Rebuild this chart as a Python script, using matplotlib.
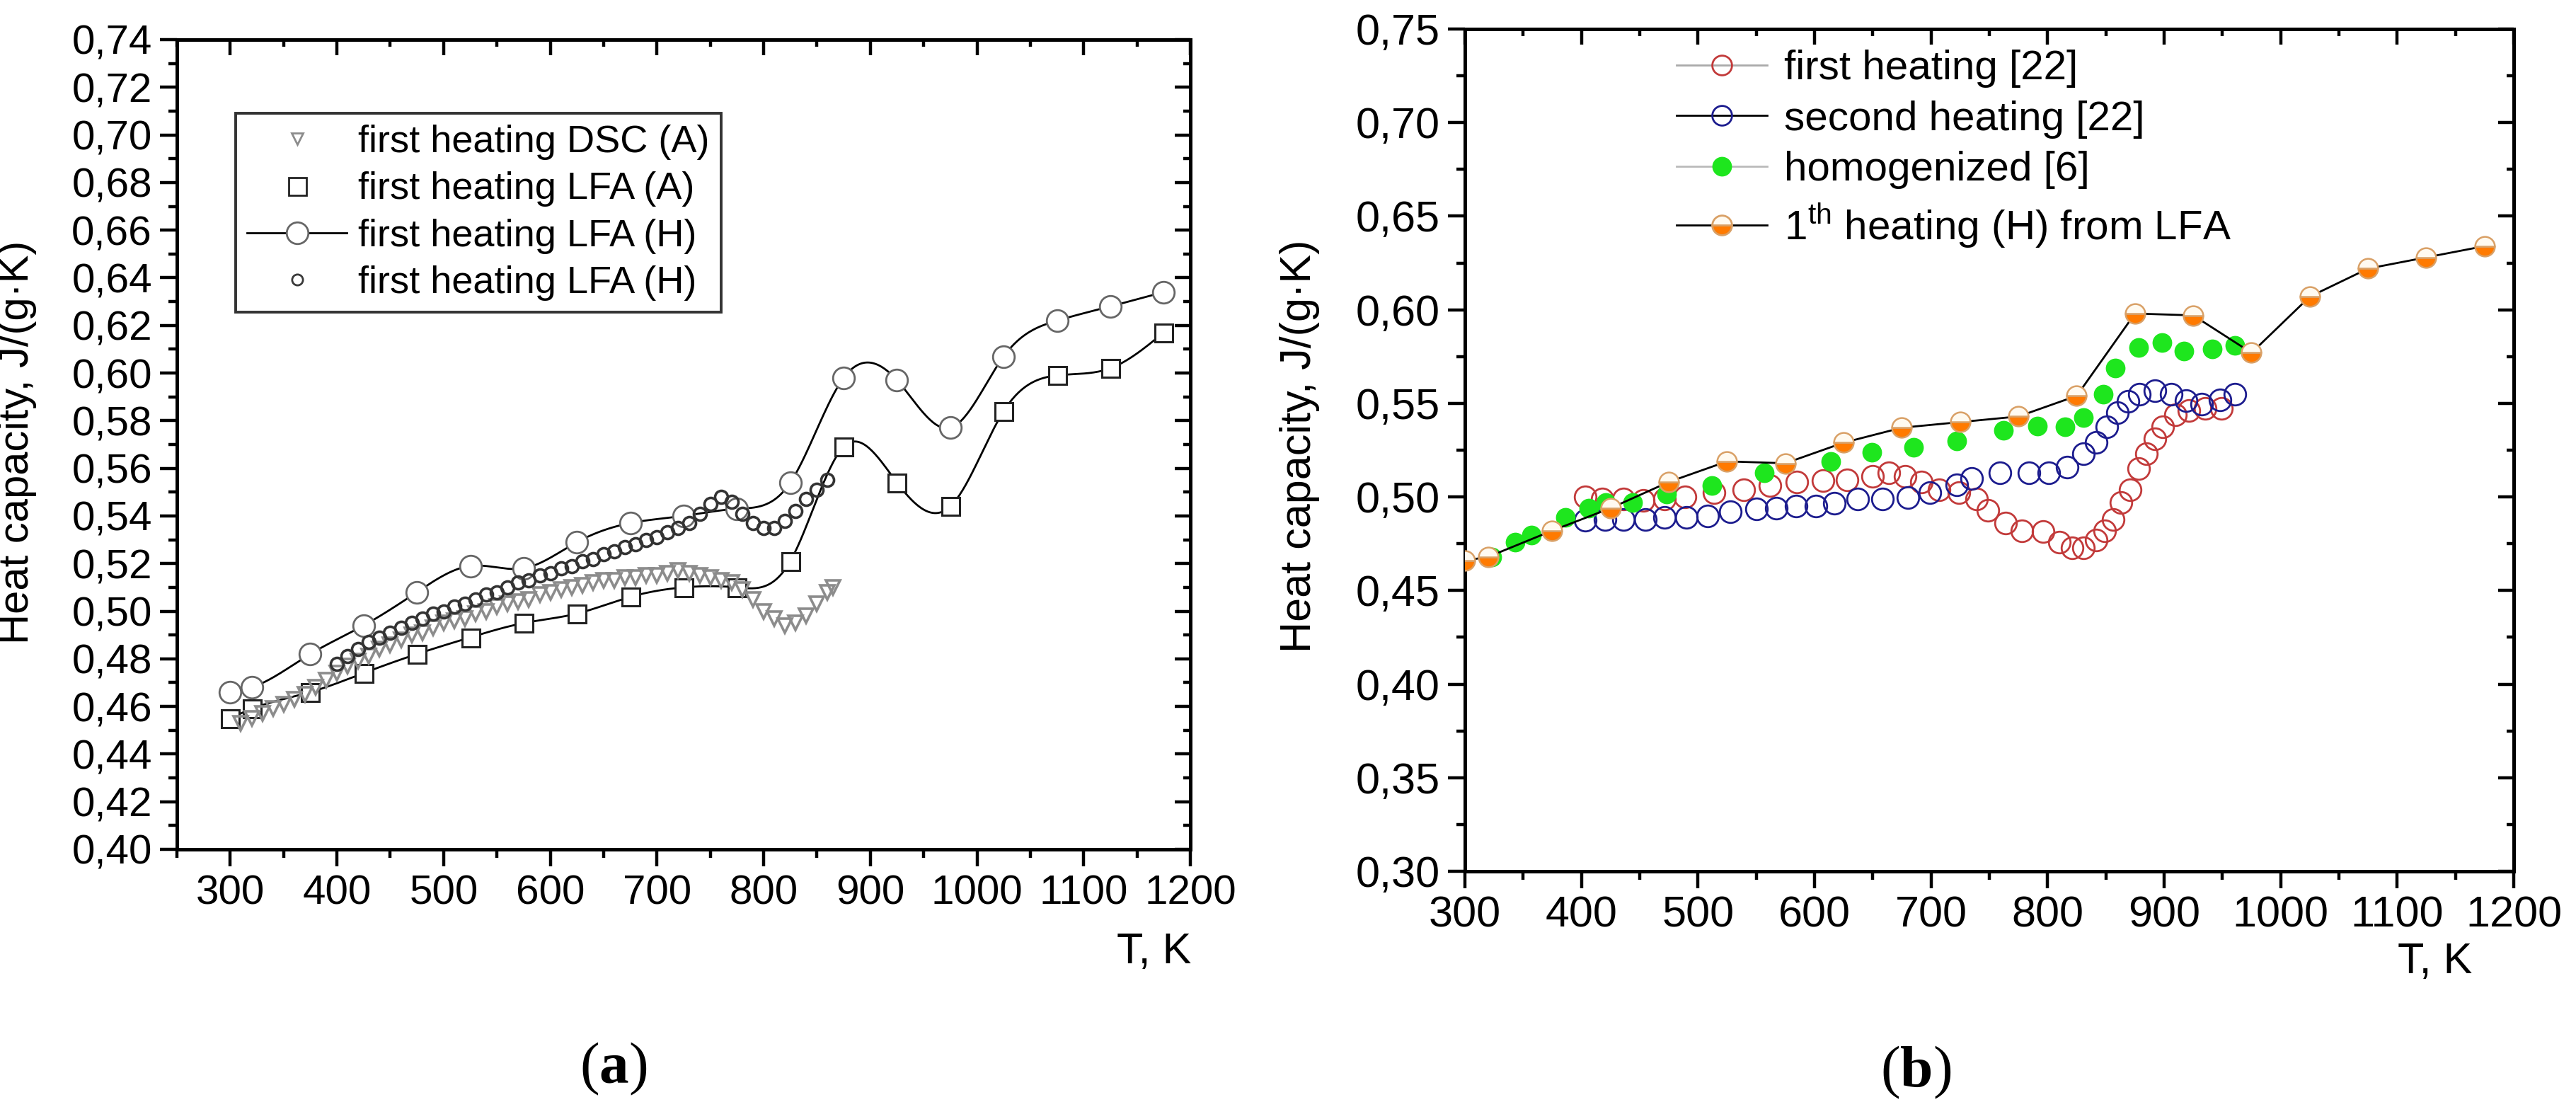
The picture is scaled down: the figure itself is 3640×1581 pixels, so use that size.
import numpy as np
import matplotlib
matplotlib.use("Agg")
import matplotlib.pyplot as plt
from matplotlib.ticker import MultipleLocator, FuncFormatter
from matplotlib.lines import Line2D

plt.rcParams['font.family'] = ['Liberation Sans', 'DejaVu Sans']
plt.rcParams['mathtext.fontset'] = 'custom'
plt.rcParams['mathtext.rm'] = 'Liberation Sans'
plt.rcParams['mathtext.bf'] = 'Liberation Serif:bold'

# ---------------- data, panel (a) ----------------
# DSC (A), dense curve (triangles)
dsc_a_T = [310, 320, 330, 340, 350, 360, 370, 380, 390, 400, 410, 420, 430, 440,
           450, 460, 470, 480, 490, 500, 510, 520, 530, 540, 550, 560, 570, 580,
           590, 600, 610, 620, 630, 640, 650, 660, 670, 680, 690, 700, 710, 720,
           730, 740, 750, 760, 770, 780, 790, 800, 810, 820, 830, 840, 850, 860, 865]
dsc_a_cp = [0.453, 0.455, 0.457, 0.459, 0.461, 0.463, 0.465, 0.468, 0.471, 0.474,
            0.477, 0.479, 0.481, 0.484, 0.486, 0.488, 0.490, 0.491, 0.493, 0.495,
            0.496, 0.497, 0.499, 0.500, 0.502, 0.503, 0.504, 0.505, 0.507, 0.508,
            0.509, 0.510, 0.511, 0.512, 0.513, 0.513, 0.514, 0.514, 0.515, 0.515,
            0.516, 0.517, 0.516, 0.515, 0.514, 0.513, 0.512, 0.509, 0.505, 0.500,
            0.497, 0.494, 0.495, 0.498, 0.503, 0.508, 0.510]

# LFA (A), squares
lfa_a_T = [300, 320, 375, 425, 475, 525, 575, 625, 675, 725, 775, 825, 875, 925,
           975, 1025, 1075, 1125, 1175]
lfa_a_cp = [0.455, 0.459, 0.466, 0.474, 0.482, 0.489, 0.495, 0.499, 0.506, 0.510,
            0.510, 0.521, 0.569, 0.554, 0.544, 0.584, 0.599, 0.602, 0.617]

# LFA (H), big circles
lfa_h_T = [300, 320, 375, 425, 475, 525, 575, 625, 675, 725, 775, 825, 875, 925,
           975, 1025, 1075, 1125, 1175]
lfa_h_cp = [0.466, 0.468, 0.482, 0.494, 0.508, 0.519, 0.518, 0.529, 0.537, 0.540,
            0.543, 0.554, 0.598, 0.597, 0.577, 0.607, 0.622, 0.628, 0.634]

# dense curve (small circles)
dsc_h_T = [400, 410, 420, 430, 440, 450, 460, 470, 480, 490, 500, 510, 520, 530,
           540, 550, 560, 570, 580, 590, 600, 610, 620, 630, 640, 650, 660, 670,
           680, 690, 700, 710, 720, 730, 740, 750, 760, 770, 780, 790, 800, 810,
           820, 830, 840, 850, 860]
dsc_h_cp = [0.478, 0.481, 0.484, 0.487, 0.489, 0.491, 0.493, 0.495, 0.497, 0.499,
            0.500, 0.502, 0.503, 0.505, 0.507, 0.508, 0.510, 0.512, 0.513, 0.515,
            0.516, 0.518, 0.519, 0.521, 0.522, 0.524, 0.525, 0.527, 0.528, 0.530,
            0.531, 0.533, 0.535, 0.537, 0.541, 0.545, 0.548, 0.546, 0.541, 0.537,
            0.535, 0.535, 0.538, 0.542, 0.547, 0.551, 0.555]

# ---------------- data, panel (b) ----------------
first22_T = [403, 418, 436, 453, 471, 489, 514, 539, 562, 585, 607, 628, 650, 664,
             678, 692, 707, 724, 739, 749, 764, 778, 796, 810, 821, 831, 842, 849,
             856, 863, 871, 878, 885, 892, 899, 910, 921, 935, 949]
first22_cp = [0.500, 0.499, 0.499, 0.498, 0.499, 0.500, 0.5025, 0.504, 0.506, 0.508,
              0.5087, 0.509, 0.511, 0.513, 0.511, 0.508, 0.504, 0.5025, 0.499, 0.493,
              0.486, 0.482, 0.4817, 0.476, 0.473, 0.473, 0.477, 0.482, 0.488, 0.497,
              0.504, 0.515, 0.523, 0.531, 0.5375, 0.544, 0.546, 0.5475, 0.5475]

second22_T = [403, 420, 436, 455, 471, 490, 508, 528, 550, 567, 584, 601, 617, 637,
              658, 680, 699, 722, 735, 759, 784, 801, 817, 831, 842, 851, 860, 869,
              879, 892, 906, 919, 932, 948, 961]
second22_cp = [0.4875, 0.488, 0.488, 0.488, 0.489, 0.489, 0.490, 0.492, 0.4935, 0.494,
               0.495, 0.495, 0.4965, 0.4988, 0.499, 0.4995, 0.5025, 0.5064, 0.510,
               0.513, 0.513, 0.513, 0.516, 0.523, 0.529, 0.5376, 0.545, 0.551, 0.555,
               0.5566, 0.5547, 0.5513, 0.5494, 0.552, 0.5547]

homog_T = [323, 343, 357, 386, 406, 421, 444, 473, 512, 557, 614, 649, 685, 722,
           762, 791, 815, 831, 848, 858, 878, 898, 917, 941, 961]
homog_cp = [0.468, 0.476, 0.4797, 0.489, 0.494, 0.497, 0.497, 0.5014, 0.506, 0.513,
            0.519, 0.524, 0.5266, 0.530, 0.5357, 0.538, 0.5376, 0.5425, 0.555, 0.569,
            0.580, 0.5825, 0.578, 0.579, 0.581]

lfa1_T = lfa_h_T
lfa1_cp = lfa_h_cp


def natural_spline(x, y, n=600):
    # smooth connecting line through the measured points (like Origin's spline)
    x = np.asarray(x, float)
    y = np.asarray(y, float)
    m = len(x)
    h = np.diff(x)
    A = np.zeros((m, m))
    b = np.zeros(m)
    A[0, 0] = 1
    A[-1, -1] = 1
    for i in range(1, m - 1):
        A[i, i - 1] = h[i - 1]
        A[i, i] = 2 * (h[i - 1] + h[i])
        A[i, i + 1] = h[i]
        b[i] = 6 * ((y[i + 1] - y[i]) / h[i] - (y[i] - y[i - 1]) / h[i - 1])
    M = np.linalg.solve(A, b)
    xs = np.linspace(x[0], x[-1], n)
    k = np.clip(np.searchsorted(x, xs) - 1, 0, m - 2)
    t0 = x[k + 1] - xs
    t1 = xs - x[k]
    hk = h[k]
    ys = (M[k] * t0 ** 3 + M[k + 1] * t1 ** 3) / (6 * hk) \
        + (y[k] / hk - M[k] * hk / 6) * t0 + (y[k + 1] / hk - M[k + 1] * hk / 6) * t1
    return xs, ys


def comma(v, pos):
    return f'{v:.2f}'.replace('.', ',')


def style_axes(ax, fs):
    for s in ax.spines.values():
        s.set_linewidth(1.8)
    ax.tick_params(which='both', direction='out', width=1.6, labelsize=fs,
                   top=False, right=False, pad=4)
    ax.tick_params(which='major', length=8.6)
    ax.tick_params(which='minor', length=4.3)
    top = ax.secondary_xaxis('top')
    right = ax.secondary_yaxis('right')
    for sec, loc in ((top, ax.xaxis), (right, ax.yaxis)):
        sec.set_ticks(loc.get_majorticklocs())
        sec.tick_params(which='both', direction='in', width=1.6, labelleft=False,
                        labelright=False, labeltop=False, labelbottom=False)
        sec.tick_params(which='major', length=8)
        sec.tick_params(which='minor', length=3.6)
        for s in sec.spines.values():
            s.set_linewidth(1.8)
    top.xaxis.set_minor_locator(ax.xaxis.get_minor_locator())
    right.yaxis.set_minor_locator(ax.yaxis.get_minor_locator())


fig = plt.figure(figsize=(3641 / 200, 1581 / 200), dpi=200)

# ---------------- panel (a) ----------------
ax1 = fig.add_axes([250 / 3641, 1 - 1200 / 1581, 1432 / 3641, 1144 / 1581])
xs, ys = natural_spline(lfa_a_T, lfa_a_cp)
ax1.plot(xs, ys, color='black', lw=1.0, zorder=2)
xs, ys = natural_spline(lfa_h_T, lfa_h_cp)
ax1.plot(xs, ys, color='black', lw=1.0, zorder=2)
ax1.plot(lfa_a_T, lfa_a_cp, ls='none', marker='s', ms=9, mfc='white', mec='#222222',
         mew=1.1, zorder=3)
ax1.plot(lfa_h_T, lfa_h_cp, ls='none', marker='o', ms=11, mfc='white', mec='#666666',
         mew=1.0, zorder=3)
ax1.plot(dsc_a_T, dsc_a_cp, ls='none', marker='v', ms=7.5, mfc='none', mec='#8c8c8c',
         mew=1.3, zorder=4)
ax1.plot(dsc_h_T, dsc_h_cp, ls='none', marker='o', ms=6.5, mfc='none', mec='#333333',
         mew=1.3, zorder=4)

ax1.set_xlim(250, 1200)
ax1.set_ylim(0.40, 0.74)
ax1.xaxis.set_major_locator(MultipleLocator(100))
ax1.xaxis.set_minor_locator(MultipleLocator(50))
ax1.yaxis.set_major_locator(MultipleLocator(0.02))
ax1.yaxis.set_minor_locator(MultipleLocator(0.01))
ax1.yaxis.set_major_formatter(FuncFormatter(comma))
ax1.set_xticks(np.arange(300, 1201, 100))
style_axes(ax1, 21)
ax1.set_ylabel('Heat capacity, J/(g·K)', fontsize=21.5)
ax1.yaxis.set_label_coords(-0.138, 0.503)
ax1.set_xlabel('T, K', fontsize=22)
ax1.xaxis.set_label_coords(0.964, -0.127)
ax1.xaxis.label.set_va('center')

h_a = [Line2D([], [], ls='none', marker='v', ms=6, mfc='none', mec='#8c8c8c'),
       Line2D([], [], ls='none', marker='s', ms=9, mfc='white', mec='#222222'),
       Line2D([], [], color='black', lw=1.0, marker='o', ms=11, mfc='white', mec='#666666'),
       Line2D([], [], ls='none', marker='o', ms=5.5, mfc='none', mec='#3a3a3a')]
l_a = ['first heating DSC (A)', 'first heating LFA (A)', 'first heating LFA (H)',
       'first heating LFA (H)']
leg = ax1.legend(h_a, l_a, loc='upper left', bbox_to_anchor=(333 / 3641, 1 - 160 / 1581),
                 bbox_transform=fig.transFigure, fontsize=19.5, frameon=True, fancybox=False,
                 edgecolor='black', handlelength=2.6, handletextpad=0.3, labelspacing=0.3,
                 borderpad=0.3, borderaxespad=0)
leg.get_frame().set_linewidth(1.4)

# ---------------- panel (b) ----------------
ax2 = fig.add_axes([2070 / 3641, 1 - 1231 / 1581, 1482 / 3641, 1190 / 1581])
ax2.plot(first22_T, first22_cp, ls='none', marker='o', ms=11, mfc='none', mec='#c23a3a',
         mew=1.0, zorder=3)
ax2.plot(second22_T, second22_cp, ls='none', marker='o', ms=11, mfc='none', mec='#1c1c8e',
         mew=1.0, zorder=3)
ax2.plot(homog_T, homog_cp, ls='none', marker='o', ms=9, mfc='#1ee61e', mec='#1ee61e',
         zorder=4)
ax2.plot(lfa1_T, lfa1_cp, color='black', lw=1.0, marker='o', ms=10, fillstyle='bottom',
         mfc='#ff7a00', mfcalt='#fffaf0', mec='#d9a066', mew=0.9, zorder=5)

ax2.set_xlim(300, 1200)
ax2.set_ylim(0.30, 0.75)
ax2.xaxis.set_major_locator(MultipleLocator(100))
ax2.xaxis.set_minor_locator(MultipleLocator(50))
ax2.yaxis.set_major_locator(MultipleLocator(0.05))
ax2.yaxis.set_minor_locator(MultipleLocator(0.025))
ax2.yaxis.set_major_formatter(FuncFormatter(comma))
style_axes(ax2, 22)
ax2.set_ylabel('Heat capacity, J/(g·K)', fontsize=22)
ax2.yaxis.set_label_coords(-0.138, 0.505)
ax2.set_xlabel('T, K', fontsize=22)
ax2.xaxis.set_label_coords(0.925, -0.108)
ax2.xaxis.label.set_va('center')

h_b = [Line2D([], [], color='#aaaaaa', lw=1.0, marker='o', ms=10, mfc='none', mec='#c23a3a'),
       Line2D([], [], color='black', lw=1.0, marker='o', ms=10, mfc='none', mec='#1c1c8e'),
       Line2D([], [], color='#bbbbbb', lw=1.0, marker='o', ms=9, mfc='#1ee61e', mec='#1ee61e'),
       Line2D([], [], color='black', lw=1.0, marker='o', ms=10, fillstyle='bottom',
              mfc='#ff7a00', mfcalt='#fffaf0', mec='#d9a066')]
l_b = ['first heating [22]', 'second heating [22]', 'homogenized [6]',
       r'1$^{\mathrm{th}}$ heating (H) from LFA']
ax2.legend(h_b, l_b, loc='upper left', bbox_to_anchor=(2369 / 3641, 1 - 70 / 1581),
           bbox_transform=fig.transFigure, fontsize=21, frameon=False,
           handlelength=2.2, handletextpad=0.4, labelspacing=0.3, borderpad=0,
           borderaxespad=0)

# panel letters
fig.text(867 / 3641, 1 - 1510 / 1581, r'($\mathbf{a}$)', fontsize=30,
         family='Liberation Serif', ha='center', va='center')
fig.text(2707 / 3641, 1 - 1515 / 1581, r'($\mathbf{b}$)', fontsize=30,
         family='Liberation Serif', ha='center', va='center')

fig.savefig('out.png', dpi=200, facecolor='white')
